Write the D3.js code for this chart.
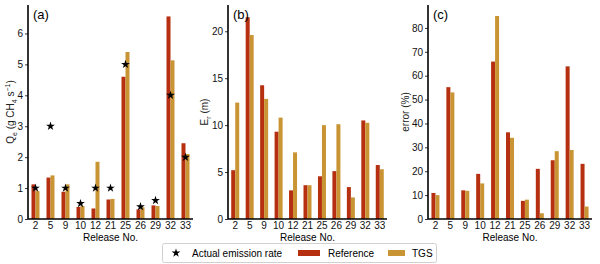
<!DOCTYPE html>
<html>
<head>
<meta charset="utf-8">
<script src="https://cdn.jsdelivr.net/npm/d3@7"></script>
<style>
    body { margin: 0; background: #fff; }
    svg { font-family: "Liberation Sans", Arial, sans-serif; }
    .axis path, .axis line { stroke: #000; }
    .axis text { font-size: 10px; fill: #111; }
</style>
</head>
<body>
<div id="chart"></div>
<script>
const releases = ['2', '5', '9', '10', '12', '21', '25', '26', '29', '32', '33'];

// (a) emission rate, g CH4/s
const rateActual = [1, 3, 1, 0.5, 1, 1, 5, 0.4, 0.6, 4, 2];
const rateReference = [1.12, 1.34, 0.88, 0.39, 0.34, 0.63, 4.6, 0.31, 0.44, 6.55, 2.45];
const rateTGS = [0.9, 1.41, 1.12, 0.42, 1.85, 0.65, 5.4, 0.38, 0.42, 5.13, 2.1];

// (b) E_r, m
const erReference = [5.2, 21.5, 14.25, 9.3, 3.05, 3.6, 4.55, 5.1, 3.4, 10.5, 5.75];
const erTGS = [12.4, 19.6, 12.8, 10.8, 7.1, 3.6, 10.0, 10.1, 2.3, 10.25, 5.3];

// (c) error, %
const errReference = [10.9, 55.2, 12, 18.9, 65.9, 36.3, 7.6, 21, 24.6, 63.9, 23.1];
const errTGS = [10, 53, 11.8, 14.9, 85, 34, 8.1, 2.4, 28.4, 28.9, 5.2];

const colorRef = '#b52f10';
const colorTGS = '#c99434';

const width = 600, height = 264;
const plotTop = 5, plotBottom = 219;

const svg = d3.select('#chart').append('svg')
    .attr('width', width)
    .attr('height', height);

const star = d3.symbol().type(d3.symbolStar).size(24);

function drawPanel(opts) {
    const x = d3.scaleBand()
        .domain(releases)
        .range([opts.left, opts.right]);

    const y = d3.scaleLinear()
        .domain([0, opts.yMax])
        .range([plotBottom, plotTop]);

    const g = svg.append('g');

    const barW = 4;

    g.selectAll('rect.ref')
        .data(opts.ref)
        .enter().append('rect')
        .attr('class', 'ref')
        .attr('x', (d, i) => x(releases[i]) + x.bandwidth() / 2 - barW)
        .attr('y', d => y(d))
        .attr('width', barW)
        .attr('height', d => plotBottom - y(d))
        .attr('fill', colorRef);

    g.selectAll('rect.tgs')
        .data(opts.tgs)
        .enter().append('rect')
        .attr('class', 'tgs')
        .attr('x', (d, i) => x(releases[i]) + x.bandwidth() / 2)
        .attr('y', d => y(d))
        .attr('width', barW)
        .attr('height', d => plotBottom - y(d))
        .attr('fill', colorTGS);

    if (opts.actual) {
        g.selectAll('path.star')
            .data(opts.actual)
            .enter().append('path')
            .attr('class', 'star')
            .attr('d', star)
            .attr('fill', '#000')
            .attr('transform', (d, i) => 'translate(' + (x(releases[i]) + x.bandwidth() / 2) + ',' + y(d) + ')');
    }

    // axes
    const xAxis = g.append('g')
        .attr('class', 'axis')
        .attr('transform', 'translate(0,' + plotBottom + ')')
        .call(d3.axisBottom(x).tickSize(0).tickPadding(3));
    xAxis.select('.domain')
        .attr('stroke-width', 1.6)
        .attr('d', 'M' + opts.left + ',0H' + opts.right);

    const yAxis = g.append('g')
        .attr('class', 'axis')
        .attr('transform', 'translate(' + opts.left + ',0)')
        .call(d3.axisLeft(y).tickValues(opts.ticks).tickFormat(d3.format('d')).tickSize(3).tickPadding(2));
    yAxis.select('.domain')
        .attr('stroke-width', 1.6)
        .attr('d', 'M0,' + plotTop + 'V' + plotBottom);
    yAxis.selectAll('.tick line').attr('stroke-width', 0.8);

    // panel label
    g.append('text')
        .attr('x', opts.left + 5)
        .attr('y', 19)
        .attr('font-size', 13)
        .text(opts.label);

    // x title
    g.append('text')
        .attr('x', (opts.left + opts.right) / 2)
        .attr('y', 240.5)
        .attr('text-anchor', 'middle')
        .attr('font-size', 10)
        .text('Release No.');

    // y title
    const yt = g.append('text')
        .attr('transform', 'translate(' + opts.yTitleX + ',' + ((plotTop + plotBottom) / 2) + ') rotate(-90)')
        .attr('text-anchor', 'middle')
        .attr('font-size', 10)
        .attr('fill', '#222');
    opts.yTitle(yt);
}

drawPanel({
    left: 28, right: 193, yMax: 6.92,
    ticks: [0, 1, 2, 3, 4, 5, 6],
    ref: rateReference, tgs: rateTGS, actual: rateActual,
    label: '(a)', yTitleX: 14,
    yTitle: t => {
        t.append('tspan').text('Q');
        t.append('tspan').attr('font-size', 7).attr('dy', 3).text('e');
        t.append('tspan').attr('dy', -3).text(' (g CH');
        t.append('tspan').attr('font-size', 7).attr('dy', 3).text('4');
        t.append('tspan').attr('dy', -3).text(' s');
        t.append('tspan').attr('font-size', 7).attr('dy', -4).text('\u22121');
        t.append('tspan').attr('dy', 4).text(')');
    }
});

drawPanel({
    left: 228, right: 387, yMax: 22.8,
    ticks: [0, 5, 10, 15, 20],
    ref: erReference, tgs: erTGS,
    label: '(b)', yTitleX: 208,
    yTitle: t => {
        t.append('tspan').text('E');
        t.append('tspan').attr('font-size', 7).attr('dy', 3).text('r');
        t.append('tspan').attr('dy', -3).text(' (m)');
    }
});

drawPanel({
    left: 428, right: 592, yMax: 89.6,
    ticks: [0, 10, 20, 30, 40, 50, 60, 70, 80],
    ref: errReference, tgs: errTGS,
    label: '(c)', yTitleX: 409,
    yTitle: t => t.text('error (%)')
});

// legend
const legend = svg.append('g').attr('font-size', 10);
legend.append('rect')
    .attr('x', 162.5).attr('y', 243.5)
    .attr('width', 274).attr('height', 19)
    .attr('rx', 2)
    .attr('fill', '#fff')
    .attr('stroke', '#d0d0d0');
legend.append('path')
    .attr('d', star)
    .attr('transform', 'translate(176,253)');
legend.append('text').attr('x', 192).attr('y', 256.5).text('Actual emission rate');
legend.append('rect').attr('x', 298).attr('y', 250).attr('width', 22).attr('height', 6).attr('fill', colorRef);
legend.append('text').attr('x', 328).attr('y', 256.5).text('Reference');
legend.append('rect').attr('x', 388).attr('y', 250).attr('width', 17).attr('height', 6).attr('fill', colorTGS);
legend.append('text').attr('x', 412).attr('y', 256.5).text('TGS');
</script>
</body>
</html>
